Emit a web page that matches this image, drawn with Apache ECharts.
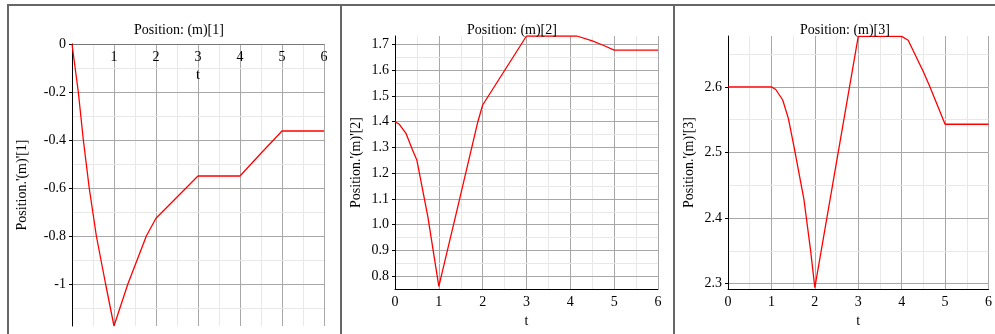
<!DOCTYPE html>
<html>
<head>
<meta charset="utf-8">
<script src="https://cdn.jsdelivr.net/npm/echarts@6/dist/echarts.min.js"></script>
<style>
	html, body { margin: 0; padding: 0; background: #fff; }
	#main { width: 995px; height: 334px; }
</style>
</head>
<body>
<div id="main"></div>
<script>
// Position: (m)[1]
var t1 = [0, 0.15, 0.27, 0.41, 0.58, 0.8, 1.0, 1.33, 1.77, 2, 3, 4, 4.5, 5, 6];
var v1 = [0, -0.2, -0.4, -0.6, -0.8, -1.0, -1.175, -1.0, -0.8, -0.726, -0.55, -0.55, -0.455, -0.3625, -0.3625];
// Position: (m)[2]
var t2 = [0, 0.1, 0.25, 0.4, 0.5, 0.75, 1, 1.42, 1.89, 2, 3, 4.15, 4.5, 4.75, 5, 6];
var v2 = [1.4, 1.39, 1.355, 1.29, 1.25, 1.03, 0.76, 1.06, 1.4, 1.465, 1.733, 1.733, 1.714, 1.697, 1.678, 1.678];
// Position: (m)[3]
var t3 = [0, 1, 1.1, 1.26, 1.39, 1.52, 1.75, 1.9, 2, 3, 4, 4.15, 4.5, 4.65, 5, 6];
var v3 = [2.6, 2.6, 2.596, 2.58, 2.552, 2.509, 2.428, 2.352, 2.294, 2.677, 2.677, 2.671, 2.623, 2.6, 2.543, 2.543];

var titles = ['Position: (m)[1]', 'Position: (m)[2]', 'Position: (m)[3]'];
var yNames = ["Position.'(m)'[1]", "Position.'(m)'[2]", "Position.'(m)'[3]"];

var font = 'Liberation Serif';
var major = '#a8a8a8';
var minor = '#e8e8e8';

function pairs(t, v) {
	var d = [];
	for (var i = 0; i < t.length; i++) d.push([t[i], v[i]]);
	return d;
}

function xAx(g, pos, inside, name) {
	return {
		type: 'value', gridIndex: g, min: 0, max: 6, interval: 1, position: pos,
		name: name, nameLocation: 'middle', nameGap: 22,
		nameTextStyle: { fontFamily: font, fontSize: 14, color: '#000' },
		axisLine: { onZero: false, lineStyle: { color: pos == 'top' ? '#777' : '#000', width: 1 } },
		axisTick: { show: false },
		axisLabel: { inside: inside, margin: 6, showMinLabel: pos != 'top', fontFamily: font, fontSize: 14, color: '#000' },
		splitLine: { show: true, lineStyle: { color: major } },
		minorTick: { show: false, splitNumber: 2 },
		minorSplitLine: { show: true, lineStyle: { color: minor } }
	};
}

function yAx(g, mn, mx, split, gap, fmt, showMax) {
	return {
		type: 'value', gridIndex: g, position: 'left', min: mn, max: mx, splitNumber: split,
		name: yNames[g], nameLocation: 'middle', nameGap: gap, nameRotate: 90,
		nameTextStyle: { fontFamily: font, fontSize: 14, color: '#000' },
		axisLine: { onZero: false, lineStyle: { color: '#000', width: 1 } },
		axisTick: { show: true, length: 3, lineStyle: { color: '#000' } },
		axisLabel: { margin: 6, showMinLabel: false, showMaxLabel: showMax, fontFamily: font, fontSize: 14, color: '#000', formatter: fmt },
		splitLine: { show: true, showMinLine: false, showMaxLine: false, lineStyle: { color: major } },
		z: 3
	};
}

// light grid lines between the labelled ones
function yMinor(g, mn, mx, split) {
	return {
		type: 'value', gridIndex: g, position: 'right', min: mn, max: mx, splitNumber: split,
		axisLine: { show: false }, axisTick: { show: false }, axisLabel: { show: false },
		splitLine: { show: true, showMinLine: false, showMaxLine: false, lineStyle: { color: minor } },
		z: 1
	};
}

var myChart = echarts.init(document.getElementById('main'));

var titleStyle = { fontFamily: font, fontSize: 14, fontWeight: 'normal', color: '#000' };

var option = {
	animation: false,
	backgroundColor: '#fff',
	title: [
		{ text: titles[0], left: 174, top: 18, textAlign: 'center', textStyle: titleStyle },
		{ text: titles[1], left: 507, top: 18, textAlign: 'center', textStyle: titleStyle },
		{ text: titles[2], left: 840, top: 18, textAlign: 'center', textStyle: titleStyle }
	],
	grid: [
		{ left: 72, width: 252, top: 44, height: 282 },
		{ left: 395, width: 263, top: 36, height: 253 },
		{ left: 728, width: 262, top: 36, height: 253 }
	],
	xAxis: [
		xAx(0, 'top', true, ''),
		xAx(1, 'bottom', false, 't'),
		xAx(2, 'bottom', false, 't')
	],
	yAxis: [
		yMinor(0, -1.175, 0, 12),
		yMinor(1, 0.75, 1.733, 20),
		yMinor(2, 2.292, 2.6775, 8),
		yAx(0, -1.175, 0, 6, 43, null, true),
		yAx(1, 0.75, 1.733, 10, 32, function (v) { return v.toFixed(1); }, false),
		yAx(2, 2.292, 2.6775, 4, 32, function (v) { return v.toFixed(1); }, false)
	],
	series: [
		{ type: 'line', xAxisIndex: 0, yAxisIndex: 3, data: pairs(t1, v1), showSymbol: false, lineStyle: { color: '#ff0000', width: 1.3 }, z: 5 },
		{ type: 'line', xAxisIndex: 1, yAxisIndex: 4, data: pairs(t2, v2), showSymbol: false, lineStyle: { color: '#ff0000', width: 1.3 }, z: 5 },
		{ type: 'line', xAxisIndex: 2, yAxisIndex: 5, data: pairs(t3, v3), showSymbol: false, lineStyle: { color: '#ff0000', width: 1.3 }, z: 5 }
	],
	graphic: [
		// x-axis name of the first panel sits under its top axis labels
		{ type: 'text', x: 198, y: 75, z: 10, style: { text: 't', font: '14px "Liberation Serif"', fill: '#000', align: 'center', verticalAlign: 'middle' } },
		{ type: 'line', shape: { x1: 7, y1: 5, x2: 995, y2: 5 }, style: { stroke: '#666', lineWidth: 2 } },
		{ type: 'line', shape: { x1: 8, y1: 5, x2: 8, y2: 334 }, style: { stroke: '#666', lineWidth: 2 } },
		{ type: 'line', shape: { x1: 341, y1: 5, x2: 341, y2: 334 }, style: { stroke: '#666', lineWidth: 2 } },
		{ type: 'line', shape: { x1: 674, y1: 5, x2: 674, y2: 334 }, style: { stroke: '#666', lineWidth: 2 } }
	]
};

myChart.setOption(option);
</script>
</body>
</html>
